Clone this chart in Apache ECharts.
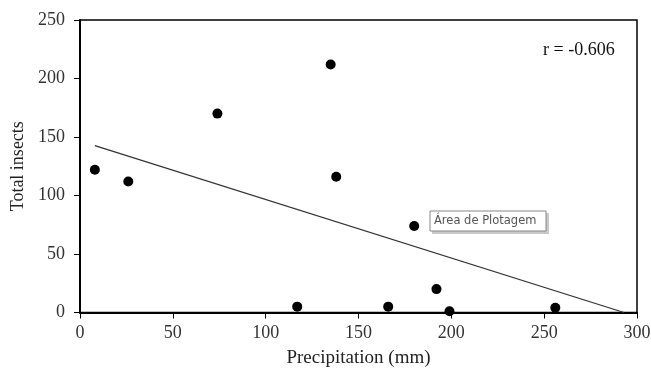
<!DOCTYPE html>
<html>
<head>
<meta charset="utf-8">
<script src="https://cdn.jsdelivr.net/npm/echarts@6/dist/echarts.min.js"></script>
<style>html,body{margin:0;padding:0;background:#fff;}#c{width:651px;height:368px;}</style>
</head>
<body>
<div id="c"></div>
<script>
var precipitation = [8, 26, 74, 135, 138, 117, 166, 180, 192, 199, 256];
var insects = [122, 112, 170, 212, 116, 5, 5, 74, 20, 1, 4];
var trendX = [8, 293];
var trendY = [142.6, 0];
var xTicks = [0, 50, 100, 150, 200, 250, 300];
var yTicks = [0, 50, 100, 150, 200, 250];
var rLabel = 'r = -0.606';

var chart = echarts.init(document.getElementById('c'));
var serif = 'Liberation Serif';
chart.setOption({
  animation: false,
  grid: {left: 80, top: 20, right: 14, bottom: 55.5, show: true, borderColor: '#000', borderWidth: 1.5, backgroundColor: 'transparent', containLabel: false, outerBoundsMode: 'none'},
  xAxis: {
    type: 'value', min: xTicks[0], max: xTicks[xTicks.length - 1], interval: 50,
    name: 'Precipitation (mm)', nameLocation: 'middle', nameGap: 36,
    nameTextStyle: {fontFamily: serif, fontSize: 19, color: '#222'},
    axisLine: {lineStyle: {color: '#000', width: 2}},
    axisTick: {show: true, length: 6, lineStyle: {color: '#000', width: 1}},
    axisLabel: {fontFamily: serif, fontSize: 18, color: '#333', margin: 12},
    splitLine: {show: false}
  },
  yAxis: {
    type: 'value', min: yTicks[0], max: yTicks[yTicks.length - 1], interval: 50,
    name: 'Total insects', nameLocation: 'middle', nameGap: 53, nameRotate: 90,
    nameTextStyle: {fontFamily: serif, fontSize: 18, color: '#222'},
    axisLine: {lineStyle: {color: '#000', width: 2}},
    axisTick: {show: true, length: 6, lineStyle: {color: '#000', width: 1}},
    axisLabel: {fontFamily: serif, fontSize: 18, color: '#333', margin: 15},
    splitLine: {show: false}
  },
  series: [
    {
      type: 'line', data: trendX.map(function (x, i) { return [x, trendY[i]]; }),
      symbol: 'none', lineStyle: {color: '#333', width: 1.3}, z: 2
    },
    {
      type: 'scatter', data: precipitation.map(function (x, i) { return [x, insects[i]]; }),
      symbol: 'circle', symbolSize: 10, itemStyle: {color: '#000', opacity: 1}, z: 3
    }
  ],
  graphic: [
    {type: 'text', x: 543, y: 50, style: {text: rLabel, font: '18px "Liberation Serif"', fill: '#111', verticalAlign: 'middle'}},
    {type: 'rect', shape: {x: 432, y: 213, width: 117, height: 21}, style: {fill: '#c8c8c8'}, z: 10},
    {type: 'rect', shape: {x: 430, y: 211, width: 116, height: 20}, style: {fill: '#fff', stroke: '#888', lineWidth: 1}, z: 11},
    {type: 'text', x: 434, y: 221.5, z: 12, style: {text: 'Área de Plotagem', font: '11.5px "DejaVu Sans"', fill: '#555', verticalAlign: 'middle'}}
  ]
});
</script>
</body>
</html>
